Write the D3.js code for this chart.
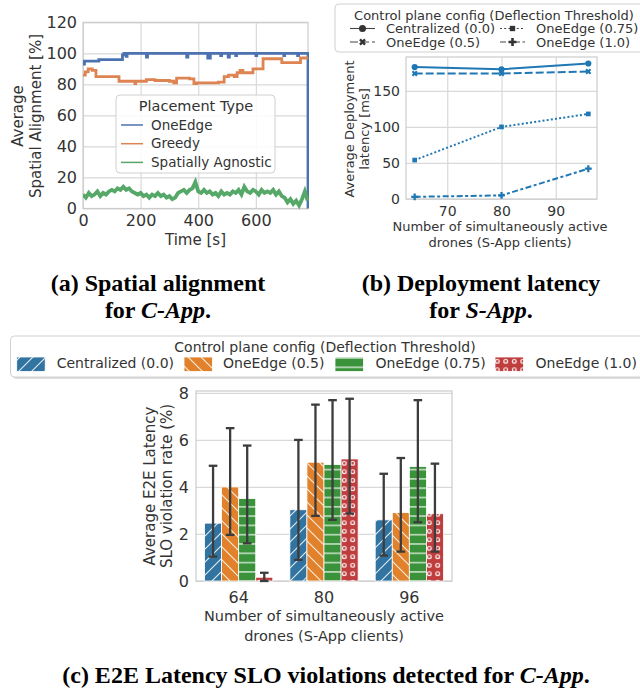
<!DOCTYPE html>
<html>
<head>
<meta charset="utf-8">
<script src="https://cdn.jsdelivr.net/npm/d3@7"></script>
<style>
body{margin:0;background:#fff;}
svg text{font-family:"DejaVu Sans",sans-serif;fill:#333;}
svg text.cap{font-family:"Liberation Serif",serif;font-weight:bold;fill:#000;}
</style>
</head>
<body>
<div class="svg-container"></div>
<script>
// ---- (a) spatial alignment ----
var placementTypes = ['OneEdge', 'Greedy', 'Spatially Agnostic'];
var placementColors = ['#4c72b0', '#dd8452', '#55a868'];
var oneEdgeT = [0, 5, 55, 137, 142, 150, 153, 220, 224, 360, 364, 433, 442, 478, 481, 504, 508, 530, 533, 600, 603, 697, 700, 745, 748, 781];
var oneEdgeV = [93, 95, 96, 99, 100, 98, 100, 97.5, 100, 97.5, 100, 97, 100, 98.5, 100, 97.5, 100, 98.5, 100, 98.5, 100, 98.5, 100, 98.5, 100, 0];
var greedyT = [0, 8, 18, 32, 45, 125, 180, 183, 220, 250, 300, 315, 325, 370, 385, 395, 470, 490, 505, 525, 535, 545, 555, 590, 625, 690, 755, 781];
var greedyV = [86, 88, 90, 89, 85, 82, 80.5, 82, 83, 82.5, 82, 81, 84, 83.5, 80.5, 81, 81.5, 85, 86, 85, 87.5, 89, 87.5, 90, 96.5, 94, 97, 97];
var agnosticT = [0, 10, 20, 30, 40, 50, 60, 70, 80, 90,
  100, 110, 120, 130, 140, 150, 160, 170, 180, 190,
  200, 210, 220, 230, 240, 250, 260, 270, 280, 290,
  300, 310, 320, 330, 340, 350, 360, 370, 380, 390,
  400, 410, 420, 430, 440, 450, 460, 470, 480, 490,
  500, 510, 520, 530, 540, 550, 560, 570, 580, 590,
  600, 610, 620, 630, 640, 650, 660, 670, 680, 690,
  700, 710, 720, 730, 740, 750, 760, 770, 780];
var agnosticV = [9, 7, 10, 8, 9, 11, 8, 10, 9, 11,
  12, 11, 13, 12, 14, 12, 13, 11, 10, 9,
  10, 8, 9, 7, 9, 8, 10, 8, 9, 7,
  8, 6, 7, 10, 11, 12, 10, 12, 13, 17,
  11, 10, 12, 10, 11, 9, 10, 8, 11, 9,
  10, 9, 11, 10, 12, 9, 14, 11, 10, 12,
  11, 9, 12, 10, 11, 10, 12, 9, 11, 8,
  7, 4, 6, 3, 5, 2, 6, 11, 5];
var ticksAx = [0, 200, 400, 600];
var ticksAy = [0, 20, 40, 60, 80, 100, 120];

// ---- (b) deployment latency ----
var droneCounts = [64, 80, 96];
var configNames = ['Centralized (0.0)', 'OneEdge (0.5)', 'OneEdge (0.75)', 'OneEdge (1.0)'];
var deployLatency = [
  [183, 180, 188],
  [174, 174, 177],
  [54, 100, 118],
  [3, 5, 42]
];
var ticksBx = [70, 80, 90];
var ticksBy = [0, 50, 100, 150];

// ---- (c) SLO violations ----
var sloMean = [[2.46, 3.03, 2.6], [4.0, 5.05, 2.91], [3.51, 4.95, 4.87], [0.16, 5.19, 2.86]];
var sloLow = [[1.04, 0.9, 1.08], [1.96, 2.77, 1.25], [1.6, 2.6, 2.5], [0.0, 2.87, 1.25]];
var sloHigh = [[4.9, 6.0, 4.56], [6.5, 7.5, 5.23], [5.76, 7.69, 7.69], [0.35, 7.75, 4.99]];
var barColors = ['#3274a1', '#e1812c', '#3a923a', '#c03d3e'];
var ticksCy = [0, 2, 4, 6, 8];

var figs = {
  main: null,
  gridColor: '#d9d9d9',
  frameColor: '#cccccc',

  makeSvg() {
    d3.select('.svg-container').selectAll('svg').remove();
    figs.main = d3.select('.svg-container').append('svg')
      .attr('width', 640).attr('height', 692);
  },

  // grid + frame + tick labels for one panel
  axes(x, y, xt, yt, o) {
    var s = figs.main;
    var x0 = x.range()[0], x1 = x.range()[1], y0 = y.range()[0], y1 = y.range()[1];
    if (xt) {
      s.append('g').attr('transform', 'translate(0,' + y0 + ')')
        .call(d3.axisBottom(x).tickValues(xt).tickSize(-(y0 - y1)).tickFormat(''))
        .call(g => g.select('.domain').remove())
        .selectAll('line').attr('stroke', figs.gridColor).attr('stroke-width', 1.2);
    }
    s.append('g').attr('transform', 'translate(' + x0 + ',0)')
      .call(d3.axisLeft(y).tickValues(yt).tickSize(-(x1 - x0)).tickFormat(''))
      .call(g => g.select('.domain').remove())
      .selectAll('line').attr('stroke', figs.gridColor).attr('stroke-width', 1.2);
    s.append('rect').attr('x', x0).attr('y', y1).attr('width', x1 - x0).attr('height', y0 - y1)
      .attr('fill', 'none').attr('stroke', figs.frameColor).attr('stroke-width', 1.2);
    var bx = d3.axisBottom(x).tickSize(0).tickPadding(o.padX);
    if (xt) bx.tickValues(xt);
    s.append('g').attr('transform', 'translate(0,' + y0 + ')').call(bx)
      .call(g => g.select('.domain').remove())
      .selectAll('text').style('font-size', o.fs + 'px').attr('fill', '#333');
    s.append('g').attr('transform', 'translate(' + x0 + ',0)')
      .call(d3.axisLeft(y).tickValues(yt).tickSize(0).tickPadding(o.padY))
      .call(g => g.select('.domain').remove())
      .selectAll('text').style('font-size', o.fs + 'px').attr('fill', '#333');
  },

  // x,y = centre of the first line; rotated labels stack to the right
  label(lines, x, y, fs, rotate, gap) {
    var t = figs.main.append('g').attr('transform', 'translate(' + x + ',' + y + ')' + (rotate ? ' rotate(-90)' : ''));
    lines.forEach(function(l, i) {
      t.append('text').attr('text-anchor', 'middle').attr('y', i * gap).attr('dy', '0.35em')
        .style('font-size', fs + 'px').text(l);
    });
  },

  caption(parts, x, y) {
    var t = figs.main.append('text').attr('class', 'cap').attr('x', x).attr('y', y)
      .attr('text-anchor', 'middle').style('font-size', '24px');
    parts.forEach(function(p) {
      t.append('tspan').style('font-style', p[1] ? 'italic' : 'normal').text(p[0]);
    });
  },

  makeA() {
    var s = figs.main;
    var x = d3.scaleLinear().domain([0, 781]).range([83, 308]);
    var y = d3.scaleLinear().domain([0, 120]).range([208.5, 22.3]);
    figs.axes(x, y, ticksAx, ticksAy, {fs: 16, padX: 6, padY: 6});
    s.append('clipPath').attr('id', 'clipA').append('rect')
      .attr('x', 83).attr('y', 22).attr('width', 226).attr('height', 188);
    var series = [[oneEdgeT, oneEdgeV, d3.curveStepAfter, 2.8],
                  [greedyT, greedyV, d3.curveStepAfter, 2.8],
                  [agnosticT, agnosticV, d3.curveLinear, 3.8]];
    series.forEach(function(sr, i) {
      var line = d3.line().x(d => x(d[0])).y(d => y(d[1])).curve(sr[2]);
      s.append('path').datum(d3.zip(sr[0], sr[1]))
        .attr('clip-path', 'url(#clipA)')
        .attr('d', line).attr('fill', 'none')
        .attr('stroke', placementColors[i]).attr('stroke-width', sr[3])
        .attr('stroke-linejoin', 'miter');
    });
    // legend
    var lg = s.append('g');
    lg.append('rect').attr('x', 116).attr('y', 95).attr('width', 159).attr('height', 78).attr('rx', 4)
      .attr('fill', '#fff').attr('fill-opacity', 0.85).attr('stroke', '#d0d0d0');
    lg.append('text').attr('x', 196).attr('y', 106).attr('dy', '0.35em').attr('text-anchor', 'middle')
      .style('font-size', '14.5px').text('Placement Type');
    placementTypes.forEach(function(p, i) {
      var yy = 125 + i * 18.7;
      lg.append('line').attr('x1', 121).attr('x2', 143).attr('y1', yy).attr('y2', yy)
        .attr('stroke', placementColors[i]).attr('stroke-width', 1.5);
      lg.append('text').attr('x', 151).attr('y', yy).attr('dy', '0.35em')
        .style('font-size', '13.5px').text(p);
    });
    figs.label(['Time [s]'], 195.5, 240, 15, false, 0);
    figs.label(['Average', 'Spatial Alignment [%]'], 17.5, 116, 15, true, 18);
    figs.caption([['(a) Spatial alignment', false]], 158, 291);
    figs.caption([['for ', false], ['C-App', true], ['.', false]], 158, 318);
  },

  marker(g, kind, cx, cy, color, big) {
    var k = big ? 1.3 : 1;
    var sym = {circle: [d3.symbolCircle, 30], x: [d3.symbolCross, 22], square: [d3.symbolSquare, 22], plus: [d3.symbolCross, 26]}[kind];
    g.append('path').attr('d', d3.symbol().type(sym[0]).size(sym[1] * k)())
      .attr('transform', 'translate(' + cx + ',' + cy + ')' + (kind === 'x' ? ' rotate(45)' : ''))
      .attr('fill', color);
  },

  makeB() {
    var s = figs.main;
    var x = d3.scaleLinear().domain([62.4, 97.6]).range([406, 597]);
    var y = d3.scaleLinear().domain([0, 197]).range([199, 57]);
    figs.axes(x, y, ticksBx, ticksBy, {fs: 14, padX: 7.5, padY: 6});
    var dashes = ['none', '8,3', '2,2.2', '6,2.5,3,2.5'];
    var marks = ['circle', 'x', 'square', 'plus'];
    var line = d3.line().x(d => x(d[0])).y(d => y(d[1]));
    deployLatency.forEach(function(vals, i) {
      var pts = d3.zip(droneCounts, vals);
      s.append('path').datum(pts).attr('d', line).attr('fill', 'none')
        .attr('stroke', '#1f77b4').attr('stroke-width', 2).attr('stroke-dasharray', dashes[i]);
      pts.forEach(function(p) { figs.marker(s, marks[i], x(p[0]), y(p[1]), '#1f77b4', false); });
    });
    figs.label(['Average Deployment', 'latency [ms]'], 349, 129, 13, true, 15.5);
    figs.label(['Number of simultaneously active', 'drones (S-App clients)'], 500, 226.7, 13, false, 16);
    // legend
    var lg = s.append('g');
    lg.append('rect').attr('x', 335).attr('y', 4).attr('width', 320).attr('height', 48).attr('rx', 4)
      .attr('fill', '#fff').attr('stroke', '#d0d0d0');
    lg.append('text').attr('x', 494).attr('y', 15).attr('dy', '0.35em').attr('text-anchor', 'middle')
      .style('font-size', '13px').text('Control plane config (Deflection Threshold)');
    var order = [0, 2, 1, 3];
    order.forEach(function(ci, k) {
      var col = k % 2, row = Math.floor(k / 2);
      var hx = col ? 500 : 350, yy = row ? 42 : 28.5;
      lg.append('line').attr('x1', hx).attr('x2', hx + 25).attr('y1', yy).attr('y2', yy)
        .attr('stroke', '#444').attr('stroke-width', 1.1).attr('stroke-dasharray', dashes[ci]);
      figs.marker(lg, marks[ci], hx + 12.5, yy, '#333', true);
      lg.append('text').attr('x', col ? 536 : 386).attr('y', yy).attr('dy', '0.35em')
        .style('font-size', '13px').text(configNames[ci]);
    });
    figs.caption([['(b) Deployment latency', false]], 481, 291);
    figs.caption([['for ', false], ['S-App', true], ['.', false]], 481, 318);
  },

  patterns() {
    var defs = figs.main.append('defs');
    var p = 13;
    var mk = function(id, w, h, color) {
      var pt = defs.append('pattern').attr('id', id).attr('patternUnits', 'userSpaceOnUse')
        .attr('width', w).attr('height', h);
      pt.append('rect').attr('width', w).attr('height', h).attr('fill', color);
      return pt;
    };
    mk('hatch0', p, p, barColors[0]).append('path')
      .attr('d', 'M0,' + p + 'L' + p + ',0M-2,2L2,-2M' + (p - 2) + ',' + (p + 2) + 'L' + (p + 2) + ',' + (p - 2))
      .attr('stroke', '#fff').attr('stroke-opacity', 0.85).attr('stroke-width', 1.1);
    mk('hatch1', p, p, barColors[1]).append('path')
      .attr('d', 'M0,0L' + p + ',' + p + 'M-2,' + (p - 2) + 'L2,' + (p + 2) + 'M' + (p - 2) + ',-2L' + (p + 2) + ',2')
      .attr('stroke', '#fff').attr('stroke-opacity', 0.85).attr('stroke-width', 1.1);
    mk('hatch2', 9.3, 9.3, barColors[2]).append('line')
      .attr('x1', 0).attr('x2', 9.3).attr('y1', 4.6).attr('y2', 4.6)
      .attr('stroke', '#fff').attr('stroke-opacity', 0.85).attr('stroke-width', 1.3);
    mk('hatch3', 8.5, 8.5, barColors[3]).append('circle')
      .attr('cx', 4.25).attr('cy', 4.25).attr('r', 1.9)
      .attr('fill', 'none').attr('stroke', '#fff').attr('stroke-width', 1.1);
  },

  makeC() {
    var s = figs.main;
    figs.patterns();
    var x = d3.scaleBand().domain(droneCounts.map(String)).range([196, 452]);
    var xi = d3.scaleBand().domain(d3.range(configNames.length)).range([0, x.bandwidth() * 0.8]);
    var y = d3.scaleLinear().domain([0, 8.08]).range([581, 391]);
    figs.axes(x, y, null, ticksCy, {fs: 16, padX: 11, padY: 7});
    var off = x.bandwidth() * 0.1;
    configNames.forEach(function(c, i) {
      droneCounts.forEach(function(d, j) {
        var bx = x(String(d)) + off + xi(i);
        s.append('rect').attr('x', bx).attr('y', y(sloMean[i][j]))
          .attr('width', xi.bandwidth()).attr('height', y(0) - y(sloMean[i][j]))
          .attr('fill', 'url(#hatch' + i + ')').attr('stroke', '#fff').attr('stroke-width', 0.8);
      });
    });
    configNames.forEach(function(c, i) {
      droneCounts.forEach(function(d, j) {
        var cx = x(String(d)) + off + xi(i) + xi.bandwidth() / 2;
        var g = s.append('g').attr('stroke', '#3c3c3c').attr('stroke-width', 2.3);
        g.append('line').attr('x1', cx).attr('x2', cx).attr('y1', y(sloLow[i][j])).attr('y2', y(sloHigh[i][j]));
        [sloLow[i][j], sloHigh[i][j]].forEach(function(v) {
          g.append('line').attr('x1', cx - 4.3).attr('x2', cx + 4.3).attr('y1', y(v)).attr('y2', y(v));
        });
      });
    });
    figs.label(['Average E2E Latency', 'SLO violation rate (%)'], 150, 486, 15, true, 17);
    figs.label(['Number of simultaneously active', 'drones (S-App clients)'], 324, 616, 14.5, false, 20);
    // legend
    var lg = s.append('g');
    lg.append('rect').attr('x', 12.5).attr('y', 338).attr('width', 640).attr('height', 41).attr('rx', 4)
      .attr('fill', '#bbb').attr('opacity', 0.5);
    lg.append('rect').attr('x', 10.5).attr('y', 336).attr('width', 640).attr('height', 41).attr('rx', 4)
      .attr('fill', '#fff').attr('stroke', '#d0d0d0');
    lg.append('text').attr('x', 325).attr('y', 347.3).attr('dy', '0.35em').attr('text-anchor', 'middle')
      .style('font-size', '14px').text('Control plane config (Deflection Threshold)');
    var hx = [16.7, 184, 335, 495], tx = [56.7, 223, 375.5, 535.5];
    configNames.forEach(function(c, i) {
      lg.append('rect').attr('x', hx[i]).attr('y', 357).attr('width', 28.5).attr('height', 14.5)
        .attr('fill', 'url(#hatch' + i + ')').attr('stroke', '#fff').attr('stroke-width', 0.8);
      lg.append('text').attr('x', tx[i]).attr('y', 363.5).attr('dy', '0.35em')
        .style('font-size', '14px').text(c);
    });
    figs.caption([['(c) E2E Latency SLO violations detected for ', false], ['C-App', true], ['.', false]], 326, 683);
  }
};

figs.makeSvg();
figs.makeA();
figs.makeB();
figs.makeC();
</script>
</body>
</html>
